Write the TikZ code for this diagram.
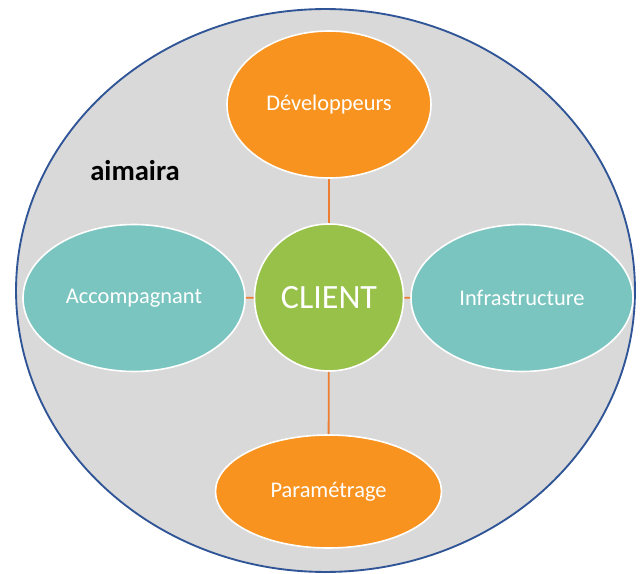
\documentclass[tikz,border=0pt]{standalone}
\usepackage{fontspec}
\setmainfont{Carlito}
\usetikzlibrary{shapes.geometric}
\definecolor{fondgris}{HTML}{D9D9D9}
\definecolor{bordbleu}{HTML}{2F5597}
\definecolor{orangeclair}{HTML}{F8931F}
\definecolor{turquoise}{HTML}{7AC5C0}
\definecolor{vertclient}{HTML}{98C14A}
\definecolor{lienorange}{HTML}{ED7D31}
\begin{document}
\begin{tikzpicture}[x=0.75pt, y=-0.75pt,
        bulle/.style={ellipse, draw=white, line width=1.2pt, text=white, inner sep=0pt, font=\fontsize{16.8}{18}\selectfont},
        lien/.style={draw=lienorange, line width=1.4pt}]
            \useasboundingbox (0, 0) rectangle (643, 574);
            \draw [fill=fondgris, draw=bordbleu, line width=1.4pt] (325.5, 290.5) ellipse [x radius=232.1pt, y radius=211.1pt];
            \node [font=\bfseries\fontsize{21.5}{24}\selectfont] (titre) at (135, 171) {aimaira};
            \node [bulle, fill=orangeclair, minimum width=153pt, minimum height=110.25pt] (dev) at (329, 104.5) {Développeurs};
            \node [bulle, fill=vertclient, minimum width=111.75pt, minimum height=110.25pt, font=\fontsize{25.5}{28}\selectfont] (client) at (329, 297.5) {CLIENT};
            \node [bulle, fill=turquoise, minimum width=166.5pt, minimum height=110.25pt] (accomp) at (134, 298) {Accompagnant};
            \node [bulle, fill=turquoise, minimum width=166.5pt, minimum height=110.25pt] (infra) at (522, 298) {Infrastructure};
            \node [bulle, fill=orangeclair, minimum width=169.5pt, minimum height=84.75pt] (param) at (328.5, 491.5) {Paramétrage};
            \draw [lien] (dev) -- (client);
            \draw [lien] (client) -- (param);
            \draw [lien] (accomp) -- (client);
            \draw [lien] (client) -- (infra);
        \end{tikzpicture}
\end{document}
